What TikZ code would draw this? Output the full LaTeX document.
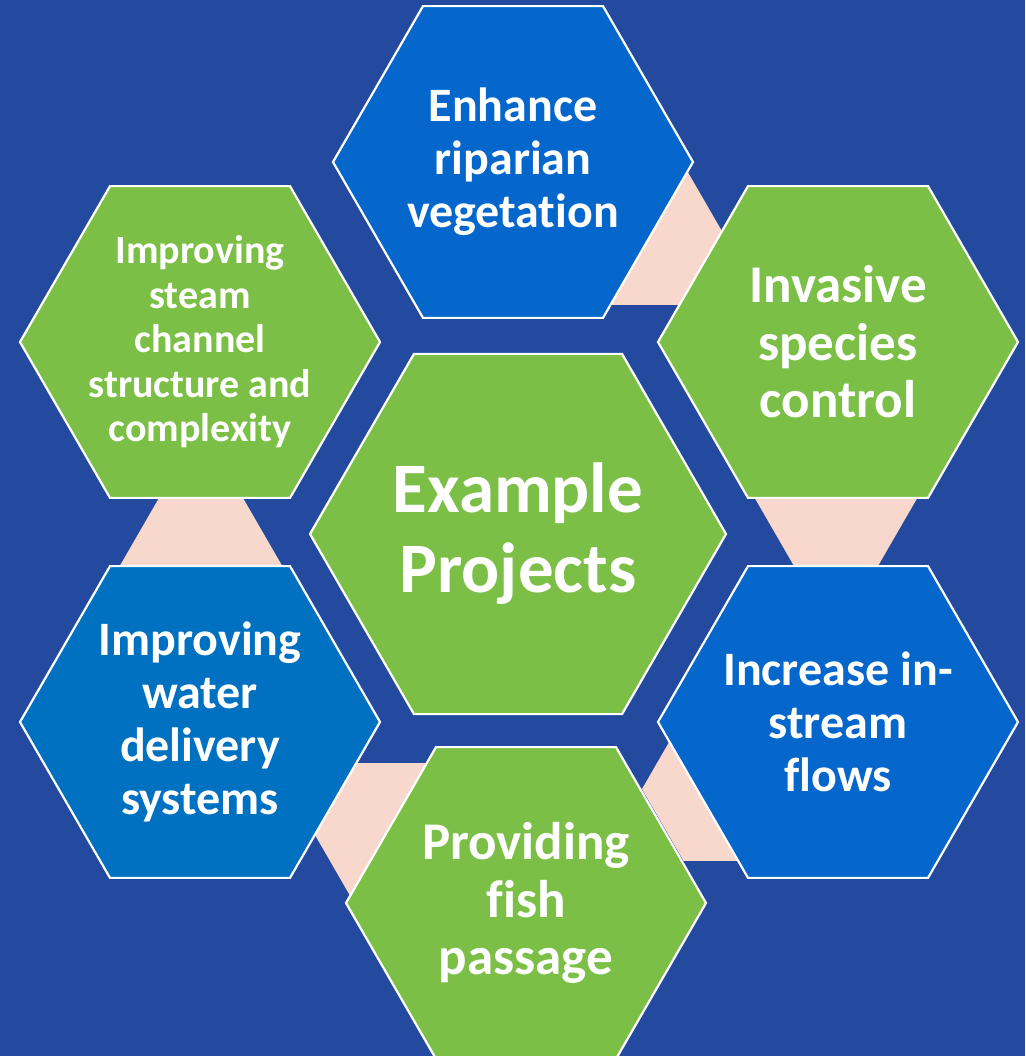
\documentclass[tikz,border=0pt]{standalone}
\usepackage{fontspec}
\setmainfont{Carlito}[Ligatures=NoCommon]
\usetikzlibrary{shapes.geometric}
\definecolor{navybg}{HTML}{244AA0}
\definecolor{hexblue}{HTML}{0566CB}
\definecolor{hexbluedeep}{HTML}{0070C0}
\definecolor{hexgreen}{HTML}{7BBF46}
\definecolor{linkpink}{HTML}{F8D8CC}
\tikzset{
  hexbox/.style={regular polygon,regular polygon sides=6,draw=white,line width=2.2pt,inner sep=-40pt,minimum size=360pt,text=white,align=center},
  linkbox/.style={regular polygon,regular polygon sides=6,fill=linkpink,inner sep=0pt,minimum size=166pt},
  bigtext/.style={font=\fontsize{71}{80}\selectfont\bfseries},
  midtext/.style={font=\fontsize{53}{57.5}\selectfont\bfseries},
  basetext/.style={font=\fontsize{48}{53}\selectfont\bfseries},
  smalltext/.style={font=\fontsize{40}{44.5}\selectfont\bfseries},
}
\begin{document}
\begin{tikzpicture}[x=1pt,y=-1pt]
        %% Background
        \fill[navybg] (0,0) rectangle (1025,1056);
        \useasboundingbox (0,0) rectangle (1025,1056);
        \clip (0,0) rectangle (1025,1056);
        %% Links
        \node[linkbox] (L1) at (640,233) {};
        \node[linkbox] (L2) at (836,495) {};
        \node[linkbox] (L3) at (725,789) {};
        \node[linkbox] (L4) at (398,835) {};
        \node[linkbox] (L5) at (201,569) {};
        %% Hexagons
        \node[hexbox,fill=hexblue,basetext] (veg) at (513,162) {Enhance\\riparian\\vegetation};
        \node[hexbox,fill=hexgreen,midtext] (inv) at (838,342) {Invasive\\species\\control};
        \node[hexbox,fill=hexblue,basetext] (flow) at (838,722) {Increase in-\\stream\\flows};
        \node[hexbox,fill=hexgreen,midtext] (fish) at (526,903) {Providing\\fish\\passage};
        \node[hexbox,fill=hexbluedeep,basetext] (water) at (200,722) {Improving\\water\\delivery\\systems};
        \node[hexbox,fill=hexgreen,smalltext] (chan) at (200,342) {Improving\\steam\\channel\\structure and\\complexity};
        %% Centre
        \node[hexbox,fill=hexgreen,minimum size=416pt,bigtext] (main) at (518,534) {Example\\Projects};
\end{tikzpicture}
\end{document}
